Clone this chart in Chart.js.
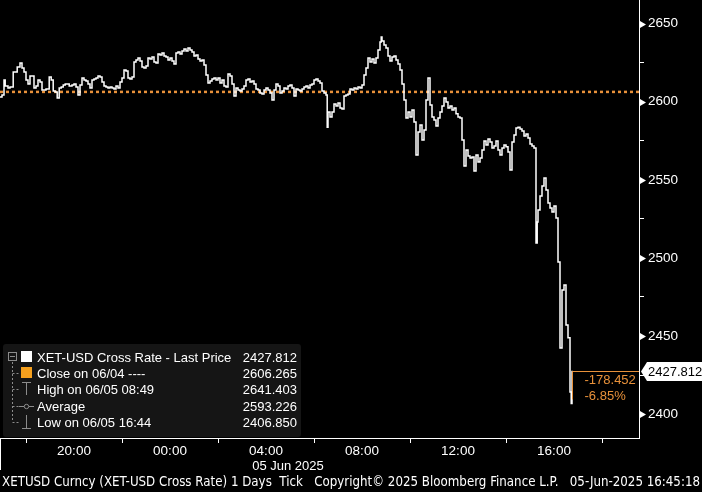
<!DOCTYPE html>
<html>
<head>
<meta charset="utf-8">
<script src="https://cdn.jsdelivr.net/npm/chart.js@4.4.1/dist/chart.umd.min.js"></script>
<style>
  html, body { margin: 0; padding: 0; background: #000; }
  canvas { display: block; }
</style>
</head>
<body>
<canvas id="c" width="702" height="492"></canvas>
<script>
// tick times, minutes after 04 Jun 2025 00:00
var times = [
  1015,1020,1025,1028,1035,1040,1048,1053,1058,1065,1070,1075,1080,1085,1090,1095,1100,1105,1110,1115,
  1120,1125,1130,1138,1143,1148,1153,1158,1163,1168,1173,1178,1183,1188,1195,1200,1205,1210,1215,1220,
  1225,1230,1235,1240,1245,1250,1255,1260,1265,1270,1275,1280,1285,1290,1295,1300,1305,1310,
  1315,1320,1325,1330,1335,1340,1345,1350,1355,1360,1365,1370,1375,1380,1385,1390,1395,1400,1405,1410,
  1415,1420,1425,1430,1435,1440,1445,1450,1455,1460,1465,1470,1475,1480,1485,1490,1495,1500,1505,1510,
  1515,1520,1525,1530,1535,1540,1545,1550,1555,1560,1565,1570,1575,1580,1585,1590,1595,1600,
  1605,1610,1615,1620,1625,1630,1635,1640,1645,1650,1655,1660,1665,1670,1675,1680,1685,1690,1695,1700,
  1705,1710,1715,1720,1725,1730,1735,1740,1745,1750,1755,1760,1765,1770,1775,1780,1785,1790,1795,1800,
  1805,1810,1815,1820,1825,1830,1833,1835,1840,1845,1850,1855,1860,1865,1870,1875,
  1880,1885,1890,1895,1900,1905,1910,1915,1920,1925,1930,1935,1940,1945,1950,1955,1960,1965,1968,1970,
  1975,1980,1985,1990,1995,2000,2005,2010,2015,2020,2025,2030,2035,2040,2045,2050,2055,2060,2065,2070,
  2075,2080,2085,2090,2095,2100,2105,2110,2115,2120,2125,2130,2135,2140,2145,2150,2155,2160,2165,2170,
  2175,2180,2185,
  2190,2195,2200,2205,2210,2215,2220,2225,2230,2235,2240,2245,2250,2255,2260,2265,2270,2275,2280,2285,
  2290,2295,2300,2305,2310,2315,2320,2325,2330,2335,2340,2345,2350,2355,2358,2360,2365,2370,2375,2380,
  2385,2390,2395,2400,2405,2410,2415,2420,2425,2430,2435,2440,2443,2445
];
var prices = [
  2603.0,2604.3,2613.9,2610.0,2608.8,2609.4,2619.0,2619.0,2622.2,2624.8,2621.6,2619.0,2613.9,2611.3,2616.4,2616.4,2608.8,2610.0,2613.9,2612.6,
  2607.5,2607.5,2608.1,2615.8,2613.9,2606.8,2606.2,2602.4,2608.8,2609.4,2610.7,2611.3,2611.3,2610.0,2610.7,2611.3,2609.4,2604.3,2610.7,2615.2,
  2613.9,2613.2,2611.3,2608.8,2613.9,2614.5,2615.2,2616.4,2615.8,2612.6,2610.0,2609.4,2608.8,2609.4,2608.8,2608.1,2610.0,2608.8,
  2612.6,2615.2,2620.3,2619.7,2615.2,2614.5,2615.8,2625.4,2626.7,2627.9,2626.0,2622.2,2621.6,2622.8,2627.9,2627.3,2628.6,2625.4,2624.8,2630.5,
  2629.9,2631.2,2629.3,2628.6,2626.7,2627.9,2626.0,2624.1,2631.2,2631.8,2630.5,2632.5,2633.7,2632.5,2634.4,2633.1,2631.8,2629.3,2629.9,2627.3,
  2626.0,2626.7,2623.5,2617.1,2612.0,2613.2,2614.5,2615.2,2613.9,2615.2,2612.0,2613.9,2610.0,2609.4,2617.7,2616.4,2611.3,2603.6,
  2608.8,2607.5,2606.8,2608.1,2610.0,2613.9,2614.5,2612.6,2613.2,2611.3,2608.1,2607.5,2605.6,2604.9,2607.5,2608.8,2607.5,2605.6,2601.1,2607.5,
  2611.3,2610.0,2605.6,2606.8,2608.8,2608.1,2610.0,2610.7,2608.8,2603.6,2608.1,2607.5,2606.8,2608.1,2609.4,2610.0,2608.8,2610.7,2611.3,2613.9,
  2614.5,2613.2,2612.0,2606.8,2605.6,2604.3,2583.7,2593.4,2590.2,2593.4,2598.5,2597.2,2599.2,2596.0,2595.3,2603.6,
  2604.3,2604.9,2608.1,2607.5,2608.8,2608.1,2609.4,2608.8,2610.7,2617.1,2621.6,2627.9,2625.4,2627.3,2624.8,2627.9,2633.1,2638.2,2641.403,2638.8,
  2636.3,2634.4,2629.3,2626.0,2628.6,2629.3,2626.7,2624.1,2620.3,2611.3,2601.1,2589.5,2593.4,2590.2,2594.7,2587.0,2565.9,2580.6,2585.1,2575.5,
  2581.9,2601.1,2615.2,2597.9,2590.2,2588.3,2584.4,2589.5,2593.4,2597.2,2602.4,2599.8,2596.0,2597.2,2594.7,2596.0,2592.2,2590.2,2589.5,2575.5,
  2558.8,2569.1,2565.3,
  2564.0,2564.6,2555.7,2565.9,2561.4,2564.0,2569.1,2574.9,2572.3,2576.1,2574.2,2570.4,2571.7,2574.9,2569.1,2565.9,2570.4,2572.3,2571.1,2567.8,
  2556.3,2574.2,2578.6,2583.1,2583.7,2582.5,2581.2,2578.0,2579.3,2576.7,2572.9,2571.7,2570.4,2509.5,2523.0,2530.7,2539.7,2546.1,2551.2,2543.5,
  2535.2,2532.0,2529.4,2533.3,2525.5,2497.4,2442.3,2479.5,2482.7,2457.1,2448.8,2414.2,2406.85,2427.812
];

var prevClose = 2606.265;

var xLabelTimes = [1200, 1440, 1680, 1920, 2160, 2400];
var xLabels = ['20:00', '00:00', '04:00', '08:00', '12:00', '16:00'];
var xMinorTimes = [1080, 1320, 1560, 1800, 2040, 2280, 2520];
var yMajor = [2400, 2450, 2500, 2550, 2600, 2650];
var yMinor = [2425, 2475, 2525, 2575, 2625];

var legendNames = ['XET-USD Cross Rate - Last Price', 'Close on 06/04 ----', 'High on 06/05 08:49', 'Average', 'Low on 06/05 16:44'];
var legendValues = ['2427.812', '2606.265', '2641.403', '2593.226', '2406.850'];
var changeText = ['-178.452', '-6.85%'];
var dateText = '05 Jun 2025';
var footerText = 'XETUSD Curncy (XET-USD Cross Rate) 1 Days  Tick   Copyright\u00a9 2025 Bloomberg Finance L.P.   05-Jun-2025 16:45:18';

var FONT = '"Liberation Sans", Arial, sans-serif';
var ORANGE = '#e8913a';

var series = times.map(function(t, i){ return {x: t, y: prices[i]}; });

var bbgPlugin = {
    id: 'bbg',
    beforeDraw: function(chart){
        var ctx = chart.ctx;
        ctx.save();
        ctx.fillStyle = '#000';
        ctx.fillRect(0, 0, chart.width, chart.height);
        ctx.restore();
    },
    afterDraw: function(chart){
        var ctx = chart.ctx;
        var xs = chart.scales.x, ys = chart.scales.y;
        var area = chart.chartArea;
        ctx.save();

        // right axis arrows for the big ticks
        ctx.fillStyle = '#fff';
        yMajor.forEach(function(v){
            var py = Math.round(ys.getPixelForValue(v)) + 0.5;
            ctx.beginPath();
            ctx.moveTo(area.right + 1, py - 3.5);
            ctx.lineTo(area.right + 7, py);
            ctx.lineTo(area.right + 1, py + 3.5);
            ctx.closePath();
            ctx.fill();
        });

        // last price tag
        var last = prices[prices.length - 1];
        var ly = Math.round(ys.getPixelForValue(last)) + 0.5;
        ctx.beginPath();
        ctx.moveTo(area.right + 2, ly);
        ctx.lineTo(area.right + 8, ly - 9.5);
        ctx.lineTo(702, ly - 9.5);
        ctx.lineTo(702, ly + 9.5);
        ctx.lineTo(area.right + 8, ly + 9.5);
        ctx.closePath();
        ctx.fill();
        ctx.fillStyle = '#000';
        ctx.font = '13px ' + FONT;
        ctx.textBaseline = 'middle';
        ctx.fillText(legendValues[0], area.right + 9, ly + 1);

        // change from previous close
        var lx = Math.round(xs.getPixelForValue(times[times.length - 1])) + 0.5;
        ctx.strokeStyle = ORANGE;
        ctx.lineWidth = 1;
        ctx.beginPath();
        ctx.moveTo(area.right, ly);
        ctx.lineTo(lx, ly);
        ctx.lineTo(lx, ly + 28);
        ctx.stroke();
        ctx.fillStyle = ORANGE;
        ctx.font = '13px ' + FONT;
        ctx.fillText(changeText[0], lx + 12, ly + 9);
        ctx.fillText(changeText[1], lx + 12, ly + 25);

        // legend box
        ctx.fillStyle = '#151515';
        ctx.beginPath();
        ctx.roundRect(3, 344, 298, 93, 3);
        ctx.fill();
        var rows = [357, 373, 389, 406, 422];
        ctx.strokeStyle = '#8c8c8c';
        ctx.setLineDash([2, 2]);
        ctx.beginPath();
        ctx.moveTo(12.5, 362); ctx.lineTo(12.5, rows[4]);
        for (var r = 1; r < 5; r++) { ctx.moveTo(12.5, rows[r] + 0.5); ctx.lineTo(19, rows[r] + 0.5); }
        ctx.stroke();
        ctx.setLineDash([]);
        ctx.strokeRect(8.5, 352.5, 8, 8);
        ctx.beginPath();
        ctx.moveTo(10, 356.5); ctx.lineTo(15, 356.5);
        // high icon
        ctx.moveTo(22, 382.5); ctx.lineTo(31, 382.5);
        ctx.moveTo(26.5, 382.5); ctx.lineTo(26.5, 395);
        // average icon
        ctx.moveTo(19, 406.5); ctx.lineTo(24, 406.5);
        ctx.moveTo(29, 406.5); ctx.lineTo(34, 406.5);
        // low icon
        ctx.moveTo(26.5, 415); ctx.lineTo(26.5, 428.5);
        ctx.moveTo(22, 428.5); ctx.lineTo(31, 428.5);
        ctx.stroke();
        ctx.beginPath();
        ctx.arc(26.5, 406.5, 2.2, 0, Math.PI * 2);
        ctx.stroke();
        ctx.fillStyle = '#fff';
        ctx.fillRect(21, 351, 11, 11);
        ctx.fillStyle = '#f5a01e';
        ctx.fillRect(21, 367, 11, 11);

        ctx.font = '13px ' + FONT;
        ctx.fillStyle = '#fff';
        ctx.textBaseline = 'middle';
        for (var i = 0; i < 5; i++) {
            ctx.textAlign = 'left';
            ctx.fillText(legendNames[i], 37, rows[i] + 1);
            ctx.textAlign = 'right';
            ctx.fillText(legendValues[i], 297, rows[i] + 1);
        }

        // date under the time axis
        ctx.textAlign = 'center';
        ctx.fillText(dateText, 288, 466);

        // left edge of the time axis
        ctx.strokeStyle = '#fff';
        ctx.beginPath();
        ctx.moveTo(0.5, area.bottom); ctx.lineTo(0.5, area.bottom + 32);
        ctx.stroke();

        // footer
        ctx.textAlign = 'left';
        ctx.font = '14px "Liberation Sans Narrow", "DejaVu Sans Condensed", sans-serif';
        ctx.fillText(footerText, 2, 482, 698);
        ctx.restore();
    }
};

new Chart(document.getElementById('c'), {
    type: 'line',
    data: {
        datasets: [
            {
                data: series,
                borderColor: '#ffffff',
                borderWidth: 1.5,
                pointRadius: 0,
                stepped: true,
                fill: false
            },
            {
                data: [{x: 1015, y: prevClose}, {x: 2612.5, y: prevClose}],
                borderColor: ORANGE,
                borderWidth: 2.5,
                borderDash: [3, 3],
                pointRadius: 0,
                fill: false
            }
        ]
    },
    options: {
        responsive: false,
        animation: false,
        devicePixelRatio: 1,
        layout: { padding: 0 },
        plugins: { legend: { display: false }, tooltip: { enabled: false } },
        scales: {
            x: {
                type: 'linear',
                min: 1015,
                max: 2612.5,
                afterBuildTicks: function(s){
                    s.ticks = xMinorTimes.concat(xLabelTimes).sort(function(a, b){ return a - b; })
                        .map(function(v){ return {value: v}; });
                },
                afterFit: function(s){ s.height = 54; s.paddingLeft = 0; s.paddingRight = 0; },
                ticks: {
                    autoSkip: false,
                    maxRotation: 0,
                    padding: 0,
                    color: '#fff',
                    font: { family: FONT, size: 13.5 },
                    callback: function(v){
                        var k = xLabelTimes.indexOf(v);
                        return k >= 0 ? xLabels[k] : '';
                    }
                },
                grid: {
                    drawOnChartArea: false,
                    tickLength: 5,
                    color: function(c){
                        return (c.tick && xMinorTimes.indexOf(c.tick.value) >= 0) ? '#fff' : 'rgba(0,0,0,0)';
                    }
                },
                border: { color: '#fff', width: 1 }
            },
            y: {
                position: 'right',
                min: 2384.7,
                max: 2665.1,
                afterBuildTicks: function(s){
                    s.ticks = yMajor.concat(yMinor).sort(function(a, b){ return a - b; })
                        .map(function(v){ return {value: v}; });
                },
                afterFit: function(s){ s.width = 63; s.paddingTop = 0; s.paddingBottom = 0; },
                ticks: {
                    padding: 4,
                    color: '#fff',
                    font: { family: FONT, size: 13.5 },
                    callback: function(v){ return yMajor.indexOf(v) >= 0 ? String(v) : ''; }
                },
                grid: {
                    drawOnChartArea: false,
                    tickLength: 5,
                    color: function(c){
                        return (c.tick && yMinor.indexOf(c.tick.value) >= 0) ? '#fff' : 'rgba(0,0,0,0)';
                    }
                },
                border: { color: '#fff', width: 1 }
            }
        }
    },
    plugins: [bbgPlugin]
});
</script>
</body>
</html>
